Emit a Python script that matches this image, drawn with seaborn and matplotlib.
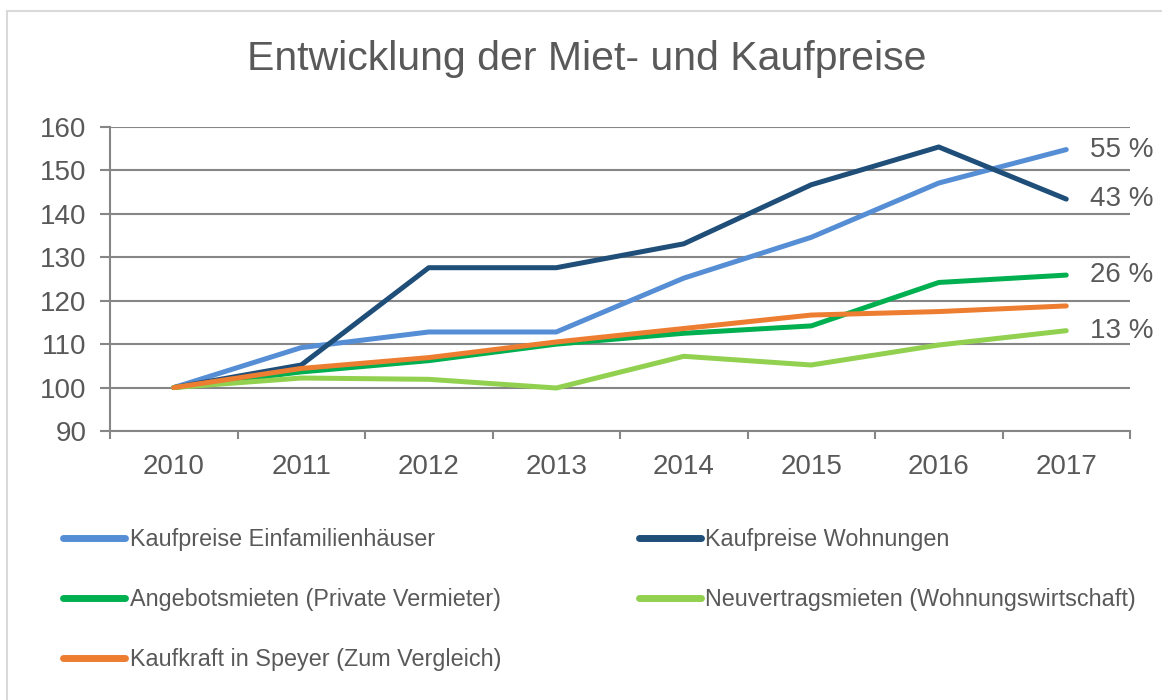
import matplotlib
matplotlib.use("Agg")
import pandas as pd
import seaborn as sns
import matplotlib.pyplot as plt
from matplotlib.patches import Rectangle
from matplotlib.ticker import FixedLocator

# data (index, 2010 = 100)
years = ['2010', '2011', '2012', '2013', '2014', '2015', '2016', '2017']
efh = [100, 109.2, 112.8, 112.8, 125.2, 134.6, 147.1, 154.8]
wohnungen = [100, 105.2, 127.6, 127.6, 133.1, 146.7, 155.4, 143.4]
angebot = [100, 103.6, 106.2, 110.0, 112.5, 114.2, 124.2, 125.9]
neuvertrag = [100, 102.2, 101.9, 99.9, 107.2, 105.2, 109.8, 113.1]
kaufkraft = [100, 104.4, 106.9, 110.5, 113.6, 116.7, 117.5, 118.8]

series_names = ['Kaufpreise Einfamilienhäuser', 'Kaufpreise Wohnungen',
                'Angebotsmieten (Private Vermieter)', 'Neuvertragsmieten (Wohnungswirtschaft)',
                'Kaufkraft in Speyer (Zum Vergleich)']
series_values = [efh, wohnungen, angebot, neuvertrag, kaufkraft]
end_labels = ['55 %', '43 %', '26 %', '13 %', None]
colors = ['#558ED5', '#1F4E79', '#00B050', '#92D050', '#ED7D31']

rows = []
for name, vals in zip(series_names, series_values):
    for y, v in zip(years, vals):
        rows.append({'Jahr': y, 'Index': v, 'Reihe': name})
df = pd.DataFrame(rows)

sns.set_style("white")
plt.rcParams['font.family'] = ['Liberation Sans', 'DejaVu Sans']
text_color = '#595959'
grid_color = '#868686'

fig = plt.figure(figsize=(11.62, 7), dpi=100)
ax = fig.add_axes([110 / 1162, 1 - 431 / 700, 1020 / 1162, 304 / 700])

sns.lineplot(data=df, x='Jahr', y='Index', hue='Reihe', hue_order=series_names,
             palette=colors, linewidth=3.6, ax=ax, sort=False)
for line in ax.get_lines():
    line.set_solid_capstyle('round')
    line.set_solid_joinstyle('round')

ax.set_xlim(-0.5, len(years) - 0.5)
ax.set_ylim(90, 160)
ax.set_yticks(range(90, 161, 10))
ax.yaxis.grid(True, color=grid_color, linewidth=1.5)
ax.set_axisbelow(True)
ax.tick_params(axis='y', direction='out', length=7, width=1.5, color=grid_color,
               labelsize=20, labelcolor=text_color, pad=10, left=True)

# tick marks between the year categories, labels at the centres
ax.xaxis.set_major_locator(FixedLocator([i - 0.5 for i in range(len(years) + 1)]))
ax.xaxis.set_minor_locator(FixedLocator(range(len(years))))
ax.set_xticklabels([], minor=False)
ax.set_xticklabels(years, minor=True)
ax.tick_params(axis='x', which='major', direction='out', length=6, width=1.5,
               color=grid_color, bottom=True)
ax.tick_params(axis='x', which='minor', length=0, labelsize=20,
               labelcolor=text_color, pad=16.5)

for side in ['top', 'right']:
    ax.spines[side].set_visible(False)
for side in ['left', 'bottom']:
    ax.spines[side].set_color(grid_color)
    ax.spines[side].set_linewidth(1.5)
ax.set_xlabel('')
ax.set_ylabel('')

# percentage labels at the line ends
for vals, lab in zip(series_values, end_labels):
    if lab:
        ax.text(len(years) - 1 + 0.19, vals[-1], lab, fontsize=20, color=text_color,
                va='center', ha='left', clip_on=False)

fig.text(0.505, 0.916, 'Entwicklung der Miet- und Kaufpreise', fontsize=29.5,
         color=text_color, ha='center', va='center')

# legend below the plot, two columns
handles, labels = ax.get_legend_handles_labels()
ax.get_legend().remove()
order = [0, 2, 4, 1, 3]
leg = fig.legend([handles[i] for i in order], [labels[i] for i in order],
                 loc='upper left', bbox_to_anchor=(63 / 1162, 1 - 528 / 700),
                 ncol=2, frameon=False, fontsize=16.8, labelcolor=text_color,
                 handlelength=2.65, handletextpad=0.2, columnspacing=5.9,
                 labelspacing=1.58, borderpad=0, borderaxespad=0)
for h in leg.get_lines():
    h.set_linewidth(5)

# light frame round the chart
fig.patches.append(Rectangle((7 / 1162, -0.05), 1.2, 1 - 11 / 700 + 0.05,
                             transform=fig.transFigure, fill=False,
                             edgecolor='#D9D9D9', linewidth=1.5))

fig.savefig('out.png', dpi=100)
